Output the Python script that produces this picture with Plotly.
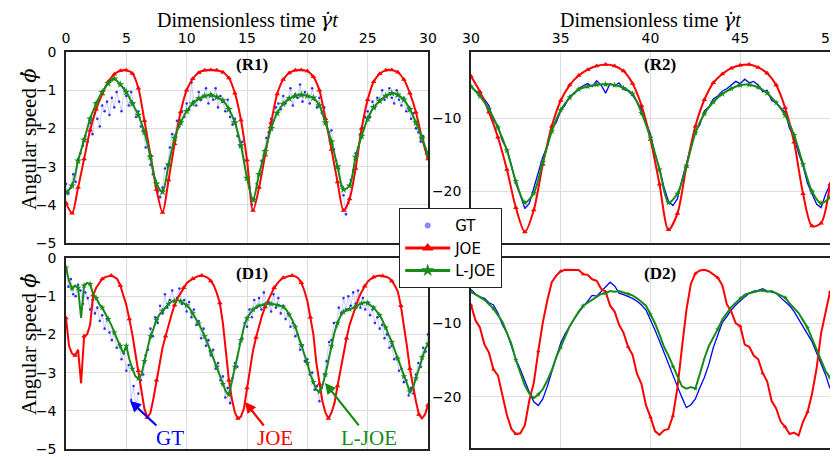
import numpy as np
import plotly.graph_objects as go

# ---------------- data ----------------
# R1 : t = 0..30
r1_joe = [-3.95, -4.22, -3.55, -2.80, -2.05, -1.50, -1.10, -0.78, -0.58, -0.49,
          -0.48, -0.56, -0.95, -1.80, -2.70, -3.60, -4.20, -3.35, -2.40, -1.57,
          -1.00, -0.70, -0.54, -0.48, -0.47, -0.48, -0.53, -0.68, -1.08, -1.78,
          -2.83, -4.15, -3.55, -2.70, -1.85, -1.10, -0.72, -0.55, -0.48, -0.47,
          -0.50, -0.65, -1.00, -1.75, -2.55, -3.40, -4.15, -3.85, -3.05, -2.00,
          -1.25, -0.78, -0.57, -0.48, -0.47, -0.53, -0.72, -1.08, -1.58, -2.25,
          -2.80]
r1_ljoe = [-3.68, -3.50, -2.85, -2.30, -1.75, -1.35, -1.05, -0.82, -0.70, -0.85,
           -1.05, -1.35, -1.65, -2.10, -2.75, -3.45, -3.66, -2.95, -2.25, -1.85,
           -1.55, -1.35, -1.22, -1.15, -1.13, -1.18, -1.27, -1.50, -1.85, -2.45,
           -3.30, -3.87, -3.20, -2.60, -2.00, -1.60, -1.36, -1.22, -1.15, -1.12,
           -1.15, -1.20, -1.40, -1.85, -2.35, -3.00, -3.60, -3.50, -2.75, -2.20,
           -1.75, -1.45, -1.28, -1.15, -1.08, -1.12, -1.25, -1.50, -1.85, -2.25,
           -2.70]
r1_gt = [-3.45, -3.70, -3.55, -3.20, -3.40, -2.80, -2.65, -2.45, -2.20, -2.35,
         -1.85, -2.15, -1.60, -1.75, -1.95, -1.40, -1.55, -1.30, -1.65, -1.20,
         -1.45, -1.05, -1.30, -1.55, -0.95, -1.15, -1.40, -1.05, -1.35, -1.70,
         -1.55, -1.95, -2.05, -2.50, -2.45, -2.95, -3.20, -3.35, -3.65, -3.80,
         -3.55, -3.05, -2.95, -2.50, -2.15, -2.25, -1.80, -1.95, -1.55, -1.70,
         -1.35, -1.50, -0.80, -1.30, -1.40, -1.05, -1.25, -1.15, -0.95, -1.35,
         -1.10, -1.25, -0.95, -1.45, -1.15, -1.30, -1.55, -1.25, -1.70, -1.90,
         -1.75, -2.20, -2.45, -2.35, -2.85, -3.30, -3.55, -4.00, -3.85, -3.45,
         -3.20, -2.85, -2.70, -2.25, -2.10, -1.75, -1.80, -1.45, -1.35, -1.50,
         -1.15, -1.35, -1.25, -0.95, -1.40, -1.10, -1.20, -0.85, -1.30, -1.05,
         -1.15, -1.35, -0.95, -1.25, -1.45, -1.20, -1.60, -1.45, -1.85, -2.10,
         -2.05, -2.55, -2.85, -3.05, -3.50, -3.75, -4.25, -3.95, -3.35, -3.10,
         -2.65, -2.50, -2.15, -2.00, -1.70, -1.55, -1.70, -1.30, -1.45, -1.20,
         -1.30, -1.00, -1.25, -1.15, -0.95, -1.20, -1.35, -1.00, -1.25, -1.40,
         -1.20, -1.55, -1.45, -1.75, -1.60, -2.00, -2.10, -2.35, -2.20, -2.55,
         -2.75]

# R2 : t = 30..50
r2_joe = [-4.3, -6.4, -9.2, -12.6, -17.0, -22.2, -25.5, -22.5, -16.3, -11.1,
          -7.6, -5.5, -4.2, -3.4, -2.9, -2.7, -2.9, -3.6, -5.3, -8.3,
          -12.9, -19.0, -25.2, -23.0, -16.6, -11.1, -7.5, -5.2, -4.0, -3.2,
          -2.8, -2.7, -3.1, -3.9, -5.5, -8.6, -13.3, -20.3, -24.7, -24.3,
          -19.0]
r2_ljoe = [-5.7, -7.0, -8.8, -11.3, -14.4, -18.6, -21.5, -20.2, -16.0, -11.8,
           -8.9, -7.2, -6.1, -5.7, -5.45, -5.4, -5.5, -5.9, -6.7, -9.3,
           -12.7, -17.0, -21.5, -20.3, -16.5, -12.0, -9.4, -7.8, -6.7, -6.0,
           -5.5, -5.45, -5.8, -6.6, -7.9, -9.6, -12.3, -16.3, -20.0, -21.6,
           -20.8]
r2_gt = [-5.6, -6.3, -6.6, -7.4, -8.3, -10.3, -11.0, -13.1,
         -14.2, -16.4, -18.9, -20.5, -22.3, -21.6, -19.5, -17.6,
         -15.3, -13.8, -11.5, -10.6, -9.0, -8.2, -7.0, -6.7,
         -6.0, -5.6, -5.3, -5.7, -4.9, -5.5, -6.6, -5.3,
         -5.6, -5.2, -6.1, -6.3, -6.9, -7.8, -8.8, -10.6,
         -12.2, -14.9, -16.8, -19.4, -21.3, -21.9, -21.0, -18.4,
         -16.1, -14.0, -11.8, -10.9, -9.0, -8.5, -7.4, -7.0,
         -6.3, -6.0, -5.5, -5.0, -5.3, -4.7, -5.2, -5.0,
         -5.5, -6.4, -6.2, -7.6, -7.9, -8.5, -9.2, -11.4,
         -12.6, -14.8, -16.5, -18.9, -20.4, -21.7, -22.2, -20.4,
         -19.0]

# D1 : t = 0..30
d1_joe = [-1.57, -2.30, -2.50, -2.55, -2.40, -3.28, -2.05, -2.00,
          -1.75, -0.97, -0.78, -0.65, -0.55, -0.50, -0.47, -0.46,
          -0.50, -0.55, -0.72, -0.95, -1.23, -1.60, -2.00, -2.50,
          -2.95, -3.45, -3.95, -4.18, -4.05, -3.67, -3.20, -2.75,
          -2.35, -2.05, -1.75, -1.48, -1.23, -1.05, -0.92, -0.78,
          -0.66, -0.60, -0.54, -0.50, -0.47, -0.46, -0.48, -0.52,
          -0.60, -0.72, -0.92, -1.18, -1.70, -2.55, -3.20, -3.70,
          -4.05, -4.20, -4.15, -3.93, -3.40, -2.85, -2.42, -2.08,
          -1.78, -1.50, -1.28, -1.10, -0.92, -0.78, -0.67, -0.58,
          -0.52, -0.49, -0.47, -0.46, -0.48, -0.53, -0.65, -0.85,
          -1.12, -1.55, -2.00, -2.75, -3.30, -3.75, -4.05, -4.20,
          -4.05, -3.80, -3.35, -2.90, -2.45, -2.10, -1.75, -1.50,
          -1.27, -1.05, -0.88, -0.74, -0.62, -0.55, -0.50, -0.47,
          -0.46, -0.47, -0.49, -0.52, -0.60, -0.72, -0.88, -1.25,
          -1.75, -2.30, -2.90, -3.35, -3.75, -4.10, -4.20, -4.10,
          -3.85]
d1_ljoe = [-0.25, -0.60, -0.80, -0.72, -0.78, -1.57, -0.72, -0.65,
           -0.68, -0.95, -1.05, -1.20, -1.30, -1.45, -1.60, -1.75,
           -1.95, -2.15, -2.30, -2.50, -2.30, -2.65, -2.90, -3.10,
           -3.15, -3.05, -2.70, -2.35, -2.05, -1.85, -1.62, -1.48,
           -1.38, -1.28, -1.20, -1.14, -1.12, -1.10, -1.13, -1.18,
           -1.24, -1.32, -1.45, -1.58, -1.72, -1.88, -2.05, -2.25,
           -2.45, -2.65, -2.85, -3.10, -3.30, -3.50, -3.58, -3.20,
           -2.85, -2.50, -2.15, -1.80, -1.58, -1.45, -1.35, -1.28,
           -1.25, -1.23, -1.21, -1.20, -1.20, -1.21, -1.23, -1.25,
           -1.28, -1.35, -1.48, -1.62, -1.80, -2.02, -2.28, -2.52,
           -2.75, -3.05, -3.25, -3.45, -3.50, -3.35, -3.05, -2.65,
           -2.30, -1.95, -1.70, -1.52, -1.41, -1.38, -1.34, -1.32,
           -1.28, -1.22, -1.19, -1.16, -1.18, -1.23, -1.30, -1.40,
           -1.50, -1.65, -1.82, -2.00, -2.20, -2.42, -2.63, -2.85,
           -3.10, -3.30, -3.50, -3.40, -3.15, -2.90, -2.60, -2.40,
           -2.25]
d1_gt = [-0.35, -0.75, -0.55, -0.95, -1.00, -0.70, -0.85, -1.20, -0.90, -1.05,
         -1.35, -1.10, -1.45, -1.30, -1.65, -1.50, -1.85, -1.60, -1.95, -2.15,
         -1.95, -2.35, -2.25, -2.65, -2.50, -2.95, -2.80, -3.72, -3.35, -3.90,
         -3.55, -3.20, -3.05, -2.55, -2.40, -1.85, -2.05, -1.55, -1.70, -1.25,
         -1.45, -0.95, -1.30, -1.10, -0.85, -1.25, -1.05, -0.80, -1.20, -1.10,
         -1.40, -1.15, -1.55, -1.35, -1.75, -1.65, -2.10, -1.85, -2.30, -2.15,
         -2.55, -2.40, -2.90, -2.75, -3.20, -3.10, -3.65, -3.40, -3.80, -3.15,
         -2.75, -2.85, -2.25, -2.10, -1.70, -1.80, -1.35, -1.55, -1.10, -1.30,
         -1.05, -1.35, -0.90, -1.20, -1.15, -1.40, -0.95, -1.30, -1.05, -1.45,
         -1.25, -1.60, -1.45, -1.80, -1.70, -2.05, -2.00, -2.40, -2.30, -2.70,
         -2.65, -3.05, -3.00, -3.45, -3.35, -3.75, -3.40, -3.05, -2.70, -2.20,
         -2.15, -1.70, -1.80, -1.30, -1.45, -1.05, -1.35, -1.00, -1.25, -0.90,
         -1.20, -0.85, -1.30, -1.05, -1.35, -1.15, -1.50, -1.35, -1.70, -1.55,
         -1.85, -1.75, -2.10, -2.00, -2.35, -2.30, -2.65, -2.60, -2.95, -2.90,
         -3.25, -3.20, -3.60, -3.40, -3.55, -3.05, -2.75, -2.85, -2.35, -2.45,
         -2.00]

# D2 : t = 30..50
d2_joe = [-7.5, -9.6, -10.6, -12.9, -14.0, -16.3, -17.1, -19.9,
          -22.5, -24.4, -25.1, -25.0, -23.9, -20.5, -18.1, -13.8,
          -9.9, -6.9, -4.4, -3.5, -2.9, -2.7, -2.7, -2.8,
          -2.75, -3.3, -3.4, -4.0, -4.2, -5.3, -5.7, -7.6,
          -8.4, -10.2, -11.3, -13.2, -14.3, -16.9, -18.3, -21.2,
          -22.8, -24.7, -25.2, -24.6, -24.4, -22.6, -18.8, -13.4,
          -8.2, -4.6, -3.2, -2.8, -2.7, -2.9, -3.3, -3.8,
          -4.8, -7.4, -8.4, -10.0, -10.4, -12.9, -13.2, -14.4,
          -14.9, -16.8, -17.9, -20.6, -21.6, -23.4, -24.1, -25.1,
          -24.9, -25.3, -23.4, -22.1, -19.6, -16.2, -11.4, -8.7,
          -5.7]
d2_ljoe = [-5.7, -6.1, -6.5, -6.8, -7.4, -8.0, -8.9, -9.8,
           -11.3, -12.8, -15.0, -16.9, -18.5, -19.6, -20.2, -19.7,
           -19.0, -17.8, -16.4, -14.6, -13.3, -11.8, -10.4, -9.4,
           -8.4, -7.6, -7.2, -6.7, -6.4, -6.0, -5.9, -5.6,
           -5.7, -5.6, -5.8, -6.0, -6.2, -6.6, -7.1, -7.6,
           -8.8, -10.0, -11.5, -13.2, -14.4, -15.9, -17.2, -18.6,
           -18.9, -18.7, -18.9, -16.9, -14.8, -13.1, -12.0, -10.8,
           -9.5, -8.6, -7.8, -7.2, -6.6, -6.1, -5.9, -5.7,
           -5.6, -5.5, -5.7, -5.6, -5.9, -6.2, -6.5, -7.3,
           -7.9, -8.6, -9.6, -10.6, -12.1, -13.6, -15.0, -16.5,
           -17.4]
d2_gt = [-5.4, -6.0, -6.4, -6.6, -7.2, -7.5, -8.6, -10.2,
         -11.3, -13.2, -14.9, -16.3, -18.0, -19.4, -20.7, -21.2,
         -20.3, -18.6, -16.6, -14.6, -12.7, -11.4, -10.3, -9.4,
         -8.5, -7.7, -6.9, -6.2, -6.3, -5.7, -5.1, -4.4,
         -4.9, -5.9, -6.1, -6.3, -6.6, -7.0, -7.5, -8.2,
         -9.5, -10.9, -12.4, -14.0, -15.6, -17.0, -18.6, -20.1,
         -21.5, -21.1, -20.3, -18.8, -17.4, -15.6, -13.3, -11.6,
         -9.9, -9.1, -8.2, -7.5, -6.9, -6.4, -5.9, -5.6,
         -5.5, -5.3, -5.6, -5.8, -5.9, -6.5, -7.0, -7.6,
         -8.4, -9.4, -10.4, -11.4, -12.5, -14.0, -15.4, -17.0,
         -18.9]

series_names = ["GT", "JOE", "L-JOE"]
left_yticks = [0, -1, -2, -3, -4, -5]
right_yticks = [-10, -20]

# ---------------- styling ----------------
VIEW_W, VIEW_H = 838, 457
OFF = 8                     # default page margin around the plot div
W, H = VIEW_W - OFF, VIEW_H - OFF
RED = "#ff0000"
GREEN = "#168c16"
BLUE = "#0000ff"
SERIF = "Liberation Serif"
SANS = "DejaVu Sans"


def fx(p):
    return (p - OFF) / W


def fy(p):
    return 1 - (p - OFF) / H


def tgrid(a, b, arr):
    return np.linspace(a, b, len(arr))


fig = go.Figure()


def add_smooth(t, y, color, symbol, xa, ya, msize):
    fig.add_trace(go.Scatter(x=t, y=y, mode="lines+markers", xaxis=xa, yaxis=ya,
                             line=dict(color=color, width=2, shape="spline", smoothing=0.8),
                             marker=dict(symbol=symbol, size=msize, color=color),
                             showlegend=False, hoverinfo="skip"))


def add_jagged(t, y, color, symbol, xa, ya, step, msize, width=2):
    t = np.asarray(t)
    y = np.asarray(y)
    fig.add_trace(go.Scatter(x=t, y=y, mode="lines", xaxis=xa, yaxis=ya,
                             line=dict(color=color, width=width),
                             showlegend=False, hoverinfo="skip"))
    fig.add_trace(go.Scatter(x=t[::step], y=y[::step], mode="markers", xaxis=xa, yaxis=ya,
                             marker=dict(symbol=symbol, size=msize, color=color),
                             showlegend=False, hoverinfo="skip"))


def add_dots(t, y, xa, ya):
    fig.add_trace(go.Scatter(x=t, y=y, mode="lines+markers", xaxis=xa, yaxis=ya,
                             line=dict(color="rgba(40,40,255,0.3)", width=0.8),
                             marker=dict(size=2.6, color=BLUE, opacity=0.8),
                             showlegend=False, hoverinfo="skip"))


# R1
add_dots(tgrid(0, 30, r1_gt), r1_gt, "x", "y")
add_smooth(tgrid(0, 30, r1_joe), r1_joe, RED, "triangle-up", "x", "y", 5)
add_smooth(tgrid(0, 30, r1_ljoe), r1_ljoe, GREEN, "star", "x", "y", 6)

# R2
fig.add_trace(go.Scatter(x=tgrid(30, 50, r2_gt), y=r2_gt, mode="lines", xaxis="x2", yaxis="y2",
                         line=dict(color=BLUE, width=1.3), showlegend=False, hoverinfo="skip"))
add_smooth(tgrid(30, 50, r2_joe), r2_joe, RED, "triangle-up", "x2", "y2", 5)
add_smooth(tgrid(30, 50, r2_ljoe), r2_ljoe, GREEN, "star", "x2", "y2", 5)

# D1
add_dots(tgrid(0, 30, d1_gt), d1_gt, "x3", "y3")
add_jagged(tgrid(0, 30, d1_joe), d1_joe, RED, "triangle-up", "x3", "y3", 3, 5)
add_jagged(tgrid(0, 30, d1_ljoe), d1_ljoe, GREEN, "star", "x3", "y3", 2, 5)

# D2
fig.add_trace(go.Scatter(x=tgrid(30, 50, d2_gt), y=d2_gt, mode="lines", xaxis="x4", yaxis="y4",
                         line=dict(color=BLUE, width=1.3), showlegend=False, hoverinfo="skip"))
add_jagged(tgrid(30, 50, d2_joe), d2_joe, RED, "triangle-up", "x4", "y4", 5, 4)
add_jagged(tgrid(30, 50, d2_ljoe), d2_ljoe, GREEN, "star", "x4", "y4", 5, 4)

# legend entries
fig.add_trace(go.Scatter(x=[None], y=[None], mode="markers", name=series_names[0],
                         marker=dict(size=6, color="rgba(60,60,255,0.6)")))
fig.add_trace(go.Scatter(x=[None], y=[None], mode="lines+markers", name=series_names[1],
                         line=dict(color=RED, width=3), marker=dict(symbol="triangle-up", size=10, color=RED)))
fig.add_trace(go.Scatter(x=[None], y=[None], mode="lines+markers", name=series_names[2],
                         line=dict(color=GREEN, width=3), marker=dict(symbol="star", size=10, color=GREEN)))

ax_common = dict(showline=True, linecolor="#222222", linewidth=1.5, mirror=True,
                 showgrid=True, gridcolor="#dedede", gridwidth=1, zeroline=False,
                 automargin=False, ticks="", ticklen=0,
                 tickfont=dict(family=SANS, size=14, color="black"))

top_y = [fy(243), fy(52)]
bot_y_l = [fy(449), fy(258)]
bot_y_r = [fy(448), fy(258)]
left_x = [fx(66), fx(428)]
right_x = [fx(471), fx(830)]

fig.update_layout(
    width=W, height=H, margin=dict(l=0, r=0, t=0, b=0, autoexpand=False),
    paper_bgcolor="white", plot_bgcolor="white",
    xaxis=dict(domain=left_x, range=[0, 30], dtick=5, side="top", anchor="y",
               ticklabelstandoff=2, ticklabeloverflow="allow", **ax_common),
    yaxis=dict(domain=top_y, range=[-5, 0], tickvals=left_yticks, anchor="x",
               ticklabelstandoff=5, **ax_common),
    xaxis2=dict(domain=right_x, range=[30, 50], dtick=5, side="top", anchor="y2",
                ticklabelstandoff=2, ticklabeloverflow="allow", **ax_common),
    yaxis2=dict(domain=top_y, range=[-27, -1], tickvals=right_yticks, anchor="x2",
                ticklabelstandoff=5, **ax_common),
    xaxis3=dict(domain=left_x, range=[0, 30], dtick=5, showticklabels=False, anchor="y3", **ax_common),
    yaxis3=dict(domain=bot_y_l, range=[-5, 0], tickvals=left_yticks, anchor="x3",
                ticklabelstandoff=5, **ax_common),
    xaxis4=dict(domain=right_x, range=[30, 50], dtick=5, showticklabels=False, anchor="y4", **ax_common),
    yaxis4=dict(domain=bot_y_r, range=[-27, -1.1], tickvals=right_yticks, anchor="x4",
                ticklabelstandoff=5, **ax_common),
    legend=dict(x=fx(399), y=fy(208), xanchor="left", yanchor="top",
                bgcolor="white", bordercolor="#222222", borderwidth=1.2, itemwidth=45,
                font=dict(family=SANS, size=15, color="black"), tracegroupgap=0),
    showlegend=True,
)

ann = []
dot_font = "font-family:'DejaVu Serif'"
title_txt = "Dimensionless time <i><span style=\"%s\">γ\u0307</span>t</i>" % dot_font
for xc in (247, 650):
    ann.append(dict(text=title_txt, x=fx(xc), y=fy(20), xref="paper", yref="paper", showarrow=False,
                    xanchor="center", yanchor="middle",
                    font=dict(family=SERIF, size=20, color="black")))
ylab = "Angular speed <i><span style=\"%s\">ϕ\u0307</span></i>" % dot_font
for yc in (140, 345):
    ann.append(dict(text=ylab, x=fx(29), y=fy(yc), xref="paper", yref="paper", showarrow=False,
                    textangle=-90, xanchor="center", yanchor="middle",
                    font=dict(family=SERIF, size=21, color="black")))
for lab, xc, yc in (("(R1)", 252, 65), ("(R2)", 660, 65), ("(D1)", 252, 273), ("(D2)", 660, 273)):
    ann.append(dict(text="<b>%s</b>" % lab, x=fx(xc), y=fy(yc), xref="paper", yref="paper",
                    showarrow=False, xanchor="center", yanchor="middle",
                    font=dict(family=SERIF, size=17, color="black")))
# callouts in D1
for txt, col, xc in (("GT", BLUE, 170), ("JOE", RED, 275), ("L-JOE", GREEN, 369)):
    ann.append(dict(text=txt, x=fx(xc), y=fy(438), xref="paper", yref="paper", showarrow=False,
                    xanchor="center", yanchor="middle", font=dict(family=SERIF, size=21, color=col)))
for col, hx, hy, ax, ay in ((BLUE, 5.3, -3.74, 28, 26), (RED, 14.83, -3.77, 20, 25),
                            (GREEN, 21.46, -3.27, 35, 44)):
    ann.append(dict(text="", x=hx, y=hy, xref="x3", yref="y3", ax=ax, ay=ay,
                    showarrow=True, arrowhead=2, arrowsize=1, arrowwidth=2.2, arrowcolor=col))
fig.update_layout(annotations=ann)

fig.write_html("out.html")
